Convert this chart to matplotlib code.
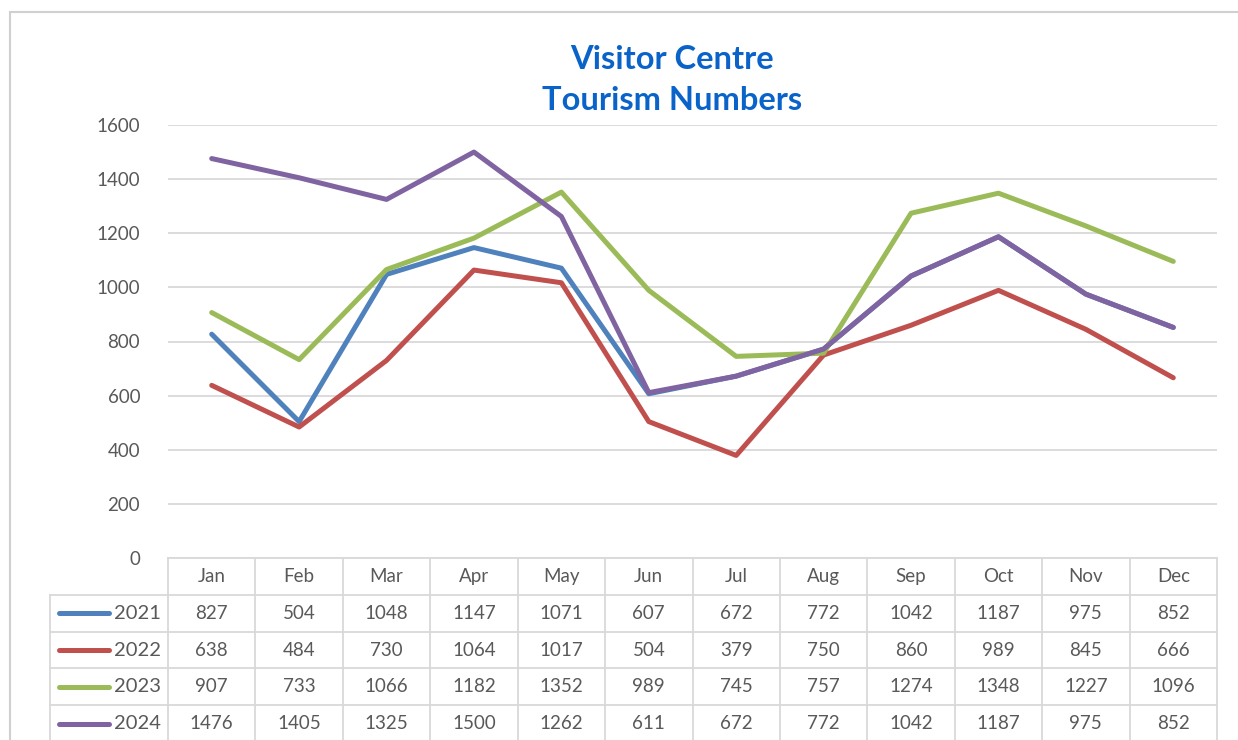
import matplotlib.pyplot as plt
from matplotlib.patches import Rectangle

months = ['Jan', 'Feb', 'Mar', 'Apr', 'May', 'Jun',
          'Jul', 'Aug', 'Sep', 'Oct', 'Nov', 'Dec']
years = ['2021', '2022', '2023', '2024']
v2021 = [827, 504, 1048, 1147, 1071, 607, 672, 772, 1042, 1187, 975, 852]
v2022 = [638, 484, 730, 1064, 1017, 504, 379, 750, 860, 989, 845, 666]
v2023 = [907, 733, 1066, 1182, 1352, 989, 745, 757, 1274, 1348, 1227, 1096]
v2024 = [1476, 1405, 1325, 1500, 1262, 611, 672, 772, 1042, 1187, 975, 852]
series = [v2021, v2022, v2023, v2024]
colors = ['#4F81BD', '#C0504D', '#9BBB59', '#8064A2']
yticks = [0, 200, 400, 600, 800, 1000, 1200, 1400, 1600]

plt.rcParams['font.family'] = ['Lato', 'DejaVu Sans']
text_col = '#595959'
grid_col = '#D9D9D9'

W, H = 1238, 740
fig = plt.figure(figsize=(W / 100, H / 100), dpi=100)

# outer chart border
fig.patches.append(Rectangle((10 / W, -0.01), 1.0, (H - 12) / H + 0.01,
                             transform=fig.transFigure, fill=False,
                             edgecolor='#D0D0D0', linewidth=1.5))

# title
fig.text(672 / W, 1 - 80 / H, 'Visitor Centre\nTourism Numbers', ha='center',
         va='center', fontsize=23.5, fontweight='bold', color='#0A63C9',
         linespacing=1.5)

# main plot area
left, right = 168 / W, 1217 / W
ax = fig.add_axes([left, 1 - 558 / H, right - left, (558 - 125) / H])
x = [i + 0.5 for i in range(len(months))]
for vals, c in zip(series, colors):
    ax.plot(x, vals, color=c, linewidth=3.6, solid_capstyle='round',
            solid_joinstyle='round', zorder=3)
ax.set_xlim(0, 12)
ax.set_ylim(0, 1600)
ax.set_yticks(yticks)
ax.set_yticklabels([str(t) for t in yticks], fontsize=13.5, color=text_col)
ax.tick_params(axis='y', length=0, pad=20)
ax.set_xticks([])
ax.grid(axis='y', color=grid_col, linewidth=1.3)
for s in ax.spines.values():
    s.set_visible(False)

# data table below the plot
tax = fig.add_axes([left, 1 - 742 / H, right - left, (742 - 558) / H])
tax.set_xlim(0, 12)
tax.set_ylim(5, 0)
tax.axis('off')
leg_x = -(168 - 50) / ((1217 - 168) / 12)
lc = '#D9D9D9'
lw = 1.3
# horizontal lines
tax.plot([0, 12], [0, 0], color=lc, lw=lw, clip_on=False)
for r in range(1, 6):
    tax.plot([leg_x, 12], [r, r], color=lc, lw=lw, clip_on=False)
# vertical lines
for cidx in range(13):
    tax.plot([cidx, cidx], [0, 5], color=lc, lw=lw, clip_on=False)
tax.plot([leg_x, leg_x], [1, 5], color=lc, lw=lw, clip_on=False)

for i, m in enumerate(months):
    tax.text(i + 0.5, 0.5, m, ha='center', va='center', fontsize=13.5,
             color=text_col, clip_on=False)
for r, (yr, vals, c) in enumerate(zip(years, series, colors)):
    yy = r + 1.5
    tax.plot([leg_x + 0.1, leg_x + 0.68], [yy, yy], color=c, linewidth=3.6,
             solid_capstyle='round', clip_on=False)
    tax.text(-0.08, yy, yr, ha='right', va='center', fontsize=14.5,
             color=text_col, clip_on=False)
    for i, v in enumerate(vals):
        tax.text(i + 0.5, yy, str(v), ha='center', va='center', fontsize=13.5,
                 color=text_col, clip_on=False)

fig.savefig('out.png', dpi=100)
